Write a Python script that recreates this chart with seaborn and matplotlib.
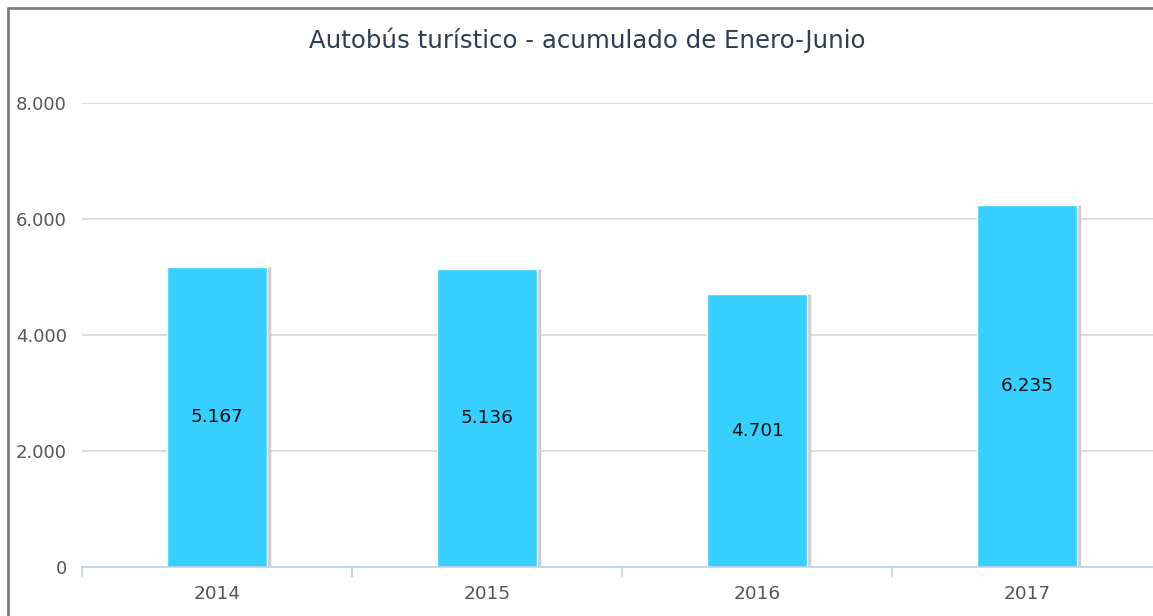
import numpy as np
import pandas as pd
import matplotlib
matplotlib.use("Agg")
import matplotlib.pyplot as plt
from matplotlib.lines import Line2D
import seaborn as sns

# data
years = ["2014", "2015", "2016", "2017"]
values = [5167, 5136, 4701, 6235]
yticks = [0, 2000, 4000, 6000, 8000]

def miles(v):
    # spanish thousands separator
    return f"{int(v):,}".replace(",", ".")

df = pd.DataFrame({"year": years, "value": values})

sns.set_style("white")
plt.rcParams["font.family"] = ["DejaVu Sans"]

fig = plt.figure(figsize=(11.53, 6.16), dpi=100)
ax = fig.add_axes([82 / 1153, 49 / 616, 1080 / 1153, 464 / 616])

sns.barplot(data=df, x="year", y="value", color="#36CFFF", saturation=1,
            width=0.37, ax=ax, zorder=3)

# light shadow on the right of each bar
for p in ax.patches:
    x0 = p.get_x() + p.get_width()
    ax.plot([x0 + 0.006, x0 + 0.006], [0, p.get_height()], color="#cccccc",
            lw=2.5, zorder=2, solid_capstyle="butt")

ax.bar_label(ax.containers[0], labels=[miles(v) for v in values],
             label_type="center", fontsize=13.3, color="#111111")

ax.set_xlim(-0.5, 3.5)
ax.set_ylim(0, 8000)
ax.set_yticks(yticks)
ax.set_yticklabels([miles(v) for v in yticks])
ax.yaxis.grid(True, color="#d6d6d6", lw=1.2)
ax.set_axisbelow(True)

ax.set_xlabel("")
ax.set_ylabel("")
for s in ["top", "right", "left"]:
    ax.spines[s].set_visible(False)
ax.spines["bottom"].set_color("#c0d0e0")
ax.spines["bottom"].set_linewidth(1.2)
ax.spines["bottom"].set_zorder(4)

ax.set_xticks([-0.5, 0.5, 1.5, 2.5], minor=True)
ax.tick_params(axis="x", which="major", bottom=False, length=0, pad=13,
               labelsize=13.3, labelcolor="#555555")
ax.tick_params(axis="x", which="minor", bottom=True, length=7, width=1.2,
               color="#c0d0e0", direction="out")
ax.tick_params(axis="y", left=False, length=0, pad=11, labelsize=13,
               labelcolor="#555555")

fig.text(0.509, 0.935, "Autobús turístico - acumulado de Enero-Junio",
         ha="center", va="center", fontsize=17.6, color="#2f3d52")

# outer frame (left and top edges visible in the reference)
fig.add_artist(Line2D([8 / 1153, 8 / 1153], [0, 1 - 8 / 616],
                      color="#7d7d7d", lw=2, transform=fig.transFigure))
fig.add_artist(Line2D([8 / 1153, 1], [1 - 8 / 616, 1 - 8 / 616],
                      color="#7d7d7d", lw=2, transform=fig.transFigure))

fig.savefig("out.png", dpi=100)
